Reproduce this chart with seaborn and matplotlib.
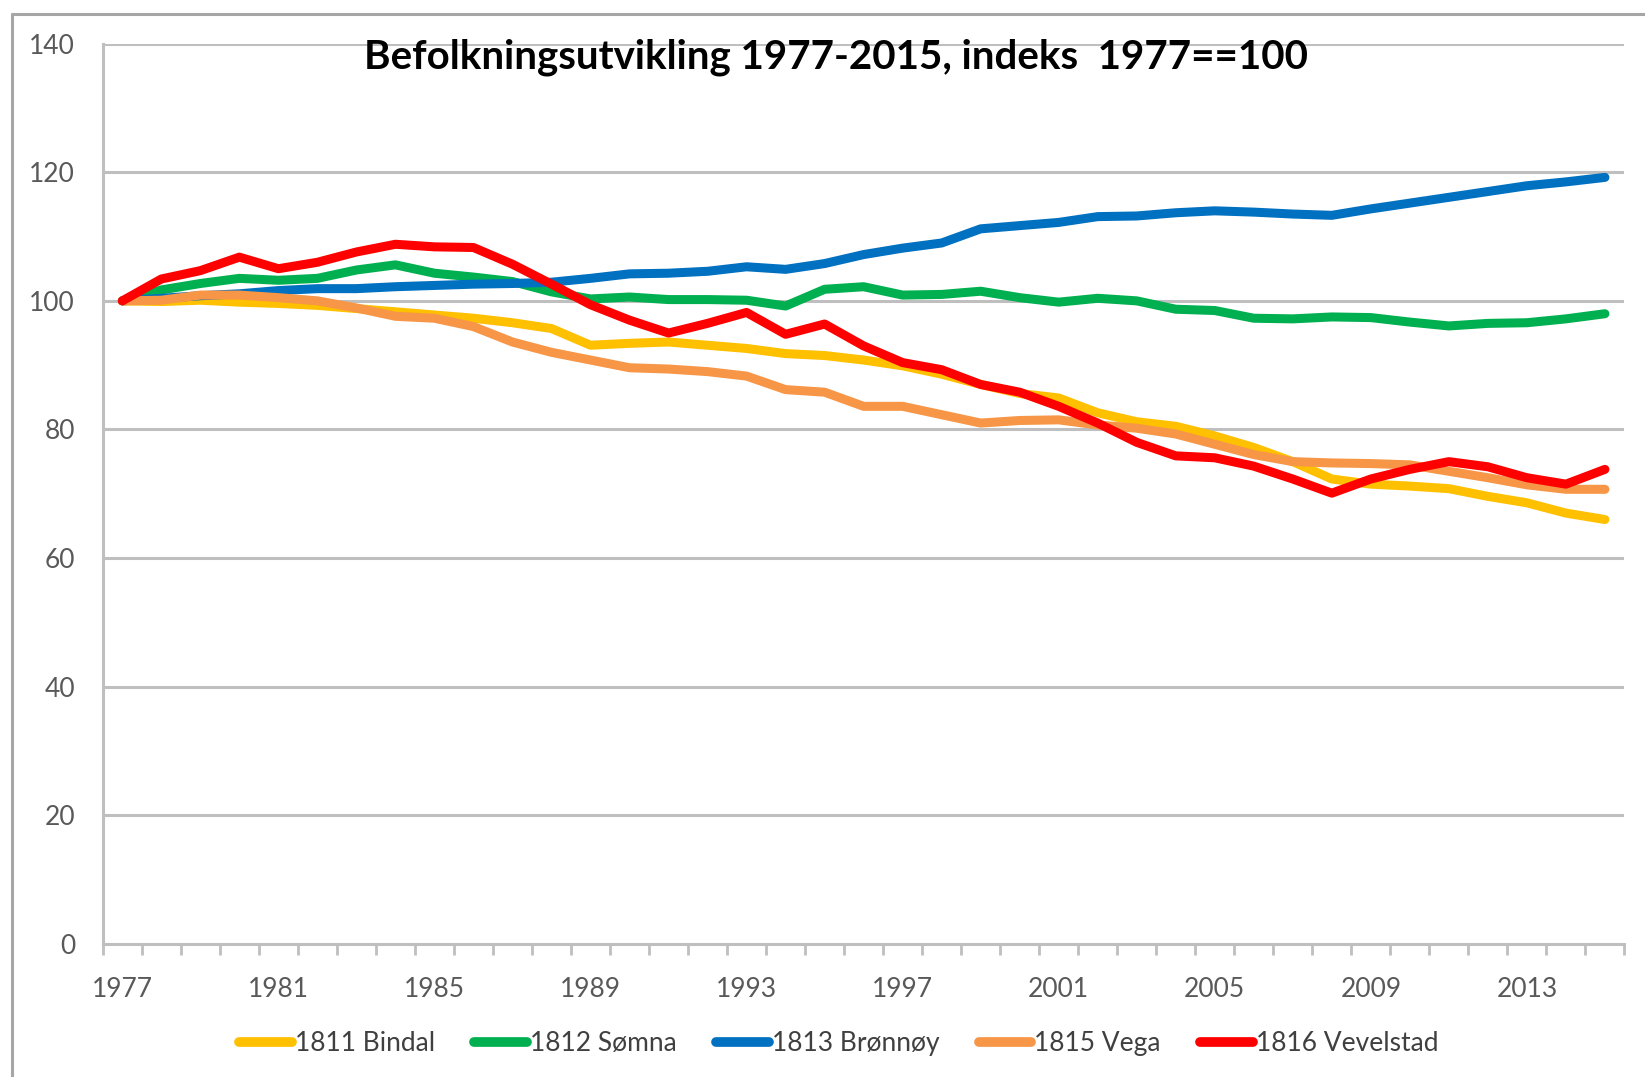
import numpy as np
import pandas as pd
import matplotlib
matplotlib.use("Agg")
import matplotlib.pyplot as plt
import seaborn as sns
from matplotlib.lines import Line2D

years = list(range(1977, 2016))

bindal = [100, 99.9, 100.1, 99.8, 99.6, 99.3, 98.8, 98.3, 97.8, 97.3,
          96.6, 95.7, 93.1, 93.4, 93.6, 93.1, 92.6, 91.8, 91.5, 90.8,
          89.9, 88.6, 87.0, 85.6, 84.9, 82.6, 81.2, 80.5, 79.0, 77.2,
          75.0, 72.3, 71.5, 71.2, 70.8, 69.6, 68.6, 67.0, 66.0]
somna = [100, 101.7, 102.7, 103.5, 103.2, 103.5, 104.8, 105.6, 104.3, 103.7,
         103.0, 101.4, 100.3, 100.6, 100.2, 100.2, 100.1, 99.2, 101.8, 102.2,
         100.9, 101.0, 101.5, 100.5, 99.8, 100.4, 100.0, 98.7, 98.5, 97.3,
         97.2, 97.5, 97.4, 96.7, 96.1, 96.5, 96.6, 97.2, 98.0]
bronnoy = [100, 100.4, 100.8, 101.1, 101.6, 101.9, 101.9, 102.2, 102.4, 102.6,
           102.7, 102.9, 103.5, 104.2, 104.3, 104.6, 105.3, 104.9, 105.8, 107.2,
           108.2, 109.0, 111.2, 111.7, 112.2, 113.1, 113.2, 113.7, 114.0, 113.8,
           113.5, 113.3, 114.3, 115.2, 116.1, 117.0, 117.9, 118.5, 119.2]
vega = [100, 100.1, 100.9, 100.9, 100.5, 100.0, 98.9, 97.6, 97.3, 96.0,
        93.6, 92.0, 90.8, 89.6, 89.4, 89.0, 88.3, 86.2, 85.8, 83.6,
        83.6, 82.3, 81.0, 81.4, 81.5, 80.7, 80.2, 79.3, 77.7, 76.1,
        75.0, 74.8, 74.7, 74.5, 73.5, 72.5, 71.4, 70.7, 70.7]
vevelstad = [100, 103.4, 104.7, 106.8, 105.0, 106.0, 107.6, 108.8, 108.4, 108.3,
             105.7, 102.6, 99.4, 97.0, 95.0, 96.5, 98.2, 94.8, 96.4, 93.0,
             90.4, 89.3, 87.0, 85.8, 83.6, 81.0, 78.0, 75.9, 75.6, 74.3,
             72.3, 70.1, 72.3, 73.8, 75.0, 74.2, 72.5, 71.5, 73.8]

names = ["1811 Bindal", "1812 Sømna", "1813 Brønnøy", "1815 Vega", "1816 Vevelstad"]
colors = ["#FFC000", "#00B050", "#0070C0", "#F79646", "#FF0000"]
series = [bindal, somna, bronnoy, vega, vevelstad]

df = pd.concat(
    [pd.DataFrame({"year": years, "indeks": vals, "kommune": name})
     for name, vals in zip(names, series)],
    ignore_index=True,
)

sns.set_theme(style="white")
plt.rcParams["font.family"] = ["Lato", "DejaVu Sans"]

grid_col = "#BFBFBF"
text_col = "#595959"

fig = plt.figure(figsize=(16.45, 10.77), dpi=100)
ax = fig.add_axes([0.0625, 0.1235, 0.925, 0.836])

sns.lineplot(data=df, x="year", y="indeks", hue="kommune",
             palette=dict(zip(names, colors)), linewidth=6.5,
             ax=ax, legend=True)
for ln in ax.lines:
    ln.set_solid_joinstyle("round")

ax.set_xlim(1976.5, 2015.5)
ax.set_ylim(0, 140)
ax.set_yticks(np.arange(0, 141, 20))
ax.set_xticks(years[::4])
ax.set_xticks(np.arange(1976.5, 2016, 1), minor=True)
ax.set_xlabel("")
ax.set_ylabel("")

ax.yaxis.grid(True, color=grid_col, linewidth=2.2)
ax.set_axisbelow(True)
for side in ["top", "right"]:
    ax.spines[side].set_visible(False)
for side in ["left", "bottom"]:
    ax.spines[side].set_color(grid_col)
    ax.spines[side].set_linewidth(2.2)

ax.tick_params(axis="y", length=0, pad=20, labelsize=19, labelcolor=text_col)
ax.tick_params(axis="x", which="major", length=0, pad=24, labelsize=19,
               labelcolor=text_col)
ax.tick_params(axis="x", which="minor", bottom=True, length=8, width=2,
               color=grid_col)

ax.text(0.482, 0.985, "Befolkningsutvikling 1977-2015, indeks  1977==100",
        transform=ax.transAxes, ha="center", va="center", fontsize=29,
        fontweight="bold", color="black")

handles, labels = ax.get_legend_handles_labels()
leg = ax.legend(handles, labels, loc="center", bbox_to_anchor=(0.4836, -0.111),
                ncol=5, frameon=False, fontsize=19, handlelength=2.0,
                handletextpad=0.1, columnspacing=1.5)
for h in leg.legend_handles:
    h.set_linewidth(7)
for t in leg.get_texts():
    t.set_color("#404040")

# outer chart frame
fig.add_artist(Line2D([0.0075, 0.0075], [0, 0.987], transform=fig.transFigure,
                      color="#A6A6A6", linewidth=2.2))
fig.add_artist(Line2D([0.0075, 1.0], [0.987, 0.987], transform=fig.transFigure,
                      color="#A6A6A6", linewidth=2.2))

fig.savefig("out.png", dpi=100)
